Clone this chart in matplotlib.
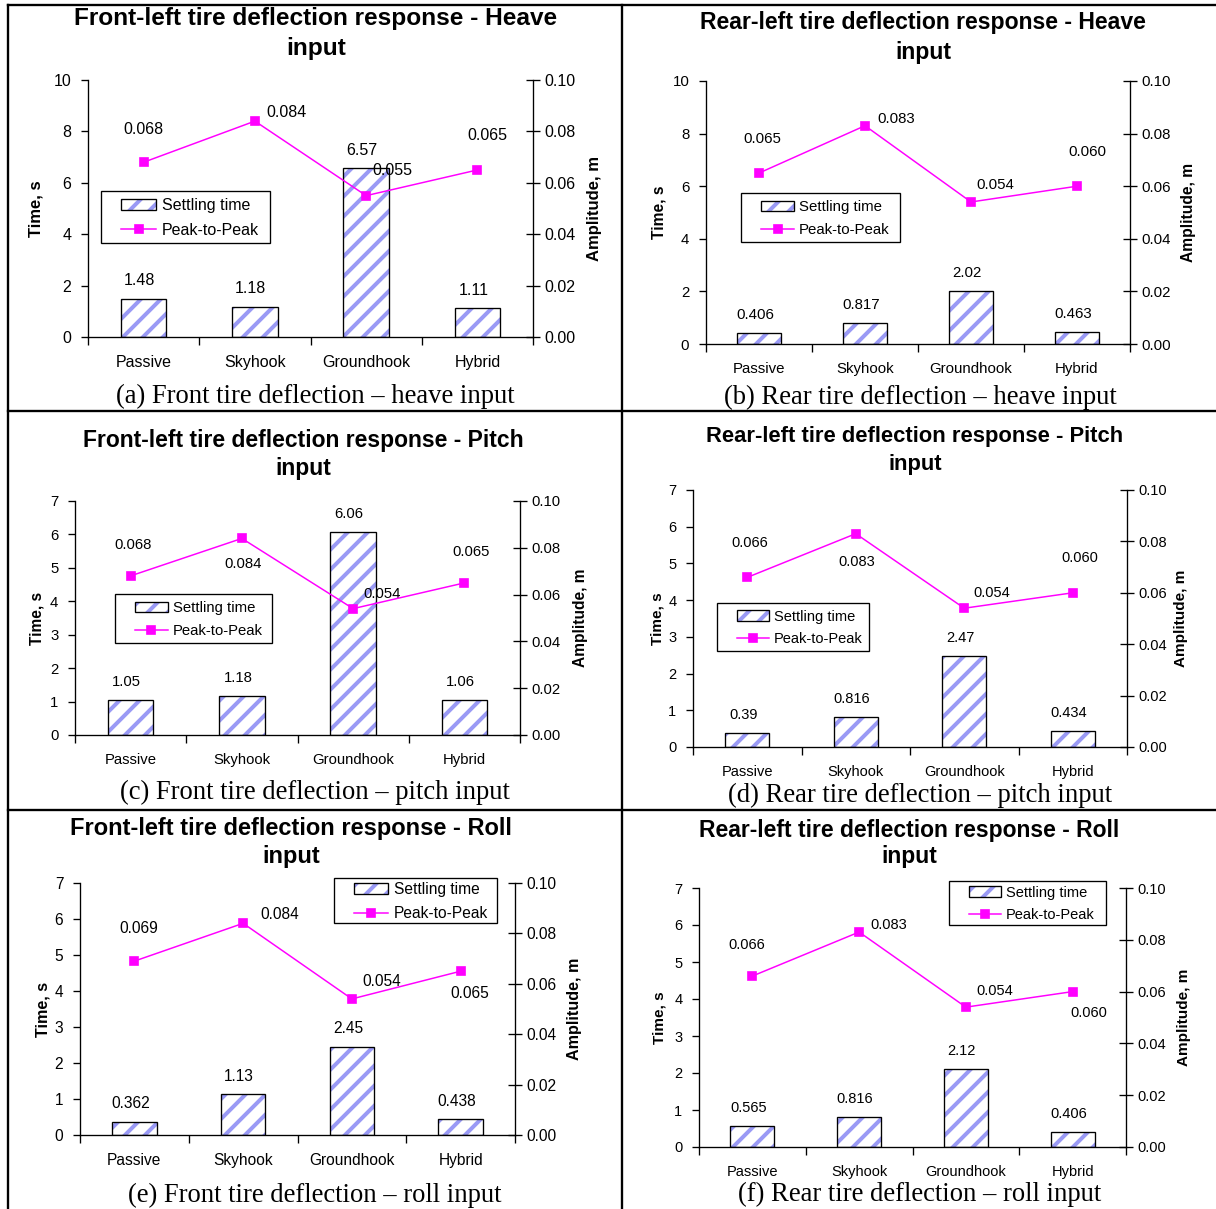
import matplotlib
matplotlib.use("Agg")
import matplotlib.pyplot as plt
from matplotlib.lines import Line2D
from matplotlib.patches import Patch, Rectangle
from matplotlib.ticker import FormatStrFormatter

plt.rcParams['font.family'] = ['Liberation Sans', 'DejaVu Sans']
plt.rcParams['hatch.linewidth'] = 2.4

W, H, DPI = 1216, 1209, 120

cats = ['Passive', 'Skyhook', 'Groundhook', 'Hybrid']

# settling time (s) and peak-to-peak amplitude (m) for each case
settle_front_heave = [1.48, 1.18, 6.57, 1.11]
p2p_front_heave = [0.068, 0.084, 0.055, 0.065]
settle_rear_heave = [0.406, 0.817, 2.02, 0.463]
p2p_rear_heave = [0.065, 0.083, 0.054, 0.060]
settle_front_pitch = [1.05, 1.18, 6.06, 1.06]
p2p_front_pitch = [0.068, 0.084, 0.054, 0.065]
settle_rear_pitch = [0.39, 0.816, 2.47, 0.434]
p2p_rear_pitch = [0.066, 0.083, 0.054, 0.060]
settle_front_roll = [0.362, 1.13, 2.45, 0.438]
p2p_front_roll = [0.069, 0.084, 0.054, 0.065]
settle_rear_roll = [0.565, 0.816, 2.12, 0.406]
p2p_rear_roll = [0.066, 0.083, 0.054, 0.060]

titles = [
    'Front-left tire deflection response - Heave\ninput',
    'Rear-left tire deflection response - Heave\ninput',
    'Front-left tire deflection response - Pitch\ninput',
    'Rear-left tire deflection response - Pitch\ninput',
    'Front-left tire deflection response - Roll\ninput',
    'Rear-left tire deflection response - Roll\ninput',
]
captions = [
    '(a) Front tire deflection \u2013 heave input',
    '(b) Rear tire deflection \u2013 heave input',
    '(c) Front tire deflection \u2013 pitch input',
    '(d) Rear tire deflection \u2013 pitch input',
    '(e) Front tire deflection \u2013 roll input',
    '(f) Rear tire deflection \u2013 roll input',
]
time_max = [10, 10, 7, 7, 7, 7]

settles = [settle_front_heave, settle_rear_heave, settle_front_pitch,
           settle_rear_pitch, settle_front_roll, settle_rear_roll]
p2ps = [p2p_front_heave, p2p_rear_heave, p2p_front_pitch,
        p2p_rear_pitch, p2p_front_roll, p2p_rear_roll]

# layout in pixels: plot box (left, top, right, bottom), title centre x / line y's,
# caption centre, y-label x's, legend box, line label offsets, font sizes
layout = [
    dict(box=(88, 80, 533, 337), title=(316, 18, 49), cap=(315, 396),
         ylab=(36, 595), leg=(101, 191, 270, 243),
         off=[(0, 33), (32, 9), (26, 25), (10, 34)], fs=9.6, tfs=14.6),
    dict(box=(706, 81, 1130, 344), title=(923, 22, 52), cap=(920, 397),
         ylab=(659, 1188), leg=(741, 193, 900, 242),
         off=[(3, 34), (31, 7), (24, 17), (10, 34)], fs=9.0, tfs=13.8),
    dict(box=(75, 501, 520, 735), title=(303, 440, 469), cap=(315, 792),
         ylab=(37, 580), leg=(115, 594, 272, 643),
         off=[(2, 31), (1, -26), (29, 15), (7, 31)], fs=8.9, tfs=13.7),
    dict(box=(693, 490, 1127, 747), title=(915, 436, 464), cap=(920, 795),
         ylab=(657, 1181), leg=(717, 603, 869, 651),
         off=[(2, 34), (1, -28), (27, 15), (7, 35)], fs=8.75, tfs=13.2),
    dict(box=(80, 883, 515, 1135), title=(291, 828, 857), cap=(315, 1195),
         ylab=(43, 575), leg=(334, 878, 497, 923),
         off=[(4, 33), (37, 9), (30, 17), (9, -22)], fs=9.3, tfs=14.2),
    dict(box=(699, 888, 1126, 1147), title=(909, 830, 857), cap=(920, 1194),
         ylab=(659, 1184), leg=(949, 881, 1106, 925),
         off=[(-6, 31), (30, 7), (29, 16), (16, -21)], fs=8.75, tfs=13.7),
]

HATCH = '#9a9af5'
MAG = '#ff00ff'


def fx(x):
    return x / W


def fy(y):
    return 1 - y / H


fig = plt.figure(figsize=(W / DPI, H / DPI), dpi=DPI)

for k in range(6):
    lay = layout[k]
    fs = lay['fs']
    l, t, r, b = lay['box']
    ax = fig.add_axes([fx(l), fy(b), (r - l) / W, (b - t) / H])
    x = range(len(cats))
    ax.bar(x, settles[k], 0.41, color='white', edgecolor=HATCH, hatch='//',
           linewidth=0, zorder=2)
    ax.bar(x, settles[k], 0.41, fill=False, edgecolor='black', linewidth=0.8,
           zorder=3)
    for i, v in enumerate(settles[k]):
        ax.annotate(f'{v:g}', (i, v), xytext=(-4, 18), textcoords='offset pixels',
                    ha='center', va='center', fontsize=fs)
    ax.set_xlim(-0.5, 3.5)
    ax.set_ylim(0, time_max[k])
    ax.set_yticks(range(0, time_max[k] + 1, 2 if time_max[k] == 10 else 1))
    ax.set_xticks([-0.5, 0.5, 1.5, 2.5, 3.5], [''] * 5)
    ax.set_xticks(range(4), cats, minor=True)
    ax.tick_params(axis='x', which='major', direction='out', length=5, width=0.8)
    ax.tick_params(axis='x', which='minor', length=0, pad=11, labelsize=fs)
    ax.tick_params(axis='y', direction='out', length=4, width=0.8, pad=6,
                   labelsize=fs)
    for s in ['top', 'right']:
        ax.spines[s].set_visible(False)
    for s in ['left', 'bottom']:
        ax.spines[s].set_linewidth(0.8)

    ax2 = ax.twinx()
    ln, = ax2.plot(x, p2ps[k], color=MAG, marker='s', markersize=4.5,
                   linewidth=0.9, zorder=4)
    for i, v in enumerate(p2ps[k]):
        dx, dy = lay['off'][i]
        ax2.annotate(f'{v:.3f}', (i, v), xytext=(dx, dy),
                     textcoords='offset pixels', ha='center', va='center',
                     fontsize=fs)
    ax2.set_ylim(0, 0.1)
    ax2.set_yticks([0, 0.02, 0.04, 0.06, 0.08, 0.10])
    ax2.yaxis.set_major_formatter(FormatStrFormatter('%.2f'))
    ax2.tick_params(axis='y', direction='inout', length=8, width=0.8, pad=3,
                    labelsize=fs)
    for s in ['top', 'left', 'bottom']:
        ax2.spines[s].set_visible(False)
    ax2.spines['right'].set_linewidth(0.8)

    # legend: entries without frame, box drawn as its own rectangle
    h_fill = Patch(facecolor='white', edgecolor=HATCH, hatch='//', linewidth=0)
    h_edge = Patch(fill=False, edgecolor='black', linewidth=0.8)
    bx0, by0, bx1, by1 = lay['leg']
    fig.add_artist(Rectangle((fx(bx0), fy(by1)), (bx1 - bx0) / W,
                             (by1 - by0) / H, transform=fig.transFigure,
                             facecolor='white', edgecolor='black',
                             linewidth=0.8, zorder=5))
    leg = ax2.legend([(h_fill, h_edge), ln], ['Settling time', 'Peak-to-Peak'],
                     loc='center left',
                     bbox_to_anchor=(fx(bx0 + 20), fy((by0 + by1) / 2 + 1)),
                     bbox_transform=fig.transFigure, borderaxespad=0,
                     frameon=False, fontsize=fs, handlelength=2.2,
                     handletextpad=0.35, labelspacing=0.6, borderpad=0)
    leg.set_zorder(6)
    fig.add_artist(leg)

    tx, ty1, ty2 = lay['title']
    for line, ty in zip(titles[k].split('\n'), (ty1, ty2)):
        fig.text(fx(tx), fy(ty), line, ha='center', va='center',
                 fontsize=lay['tfs'], fontweight='bold')
    yl, yr = lay['ylab']
    ym = fy((t + b) / 2)
    fig.text(fx(yl), ym, 'Time, s', rotation=90, ha='center', va='center',
             fontsize=fs + 0.4, fontweight='bold')
    fig.text(fx(yr), ym, 'Amplitude, m', rotation=90, ha='center', va='center',
             fontsize=fs + 0.4, fontweight='bold')
    cx, cy = lay['cap']
    fig.text(fx(cx), fy(cy), captions[k], ha='center', va='center',
             fontsize=16, family='Liberation Serif')

# table grid round the six panels
grid = [((8, 1216), (5, 5)), ((8, 8), (5, 1209)), ((622, 622), (5, 1209)),
        ((8, 1216), (411, 411)), ((8, 1216), (810, 810))]
for xs, ys in grid:
    fig.add_artist(Line2D([fx(v) for v in xs], [fy(v) for v in ys],
                          transform=fig.transFigure, color='black', linewidth=1.4))

fig.savefig('out.png', dpi=DPI)
